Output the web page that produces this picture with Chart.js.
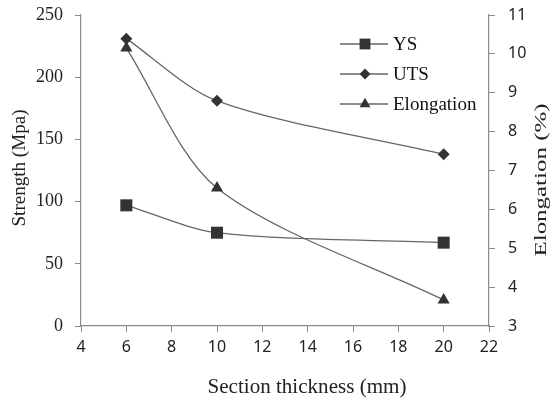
<!DOCTYPE html>
<html>
<head>
<meta charset="utf-8">
<script src="https://cdn.jsdelivr.net/npm/chart.js@4.4.1/dist/chart.umd.min.js"></script>
<style>
  html, body { margin: 0; padding: 0; background: #fff; }
  #wrap { width: 556px; height: 401px; position: relative; }
</style>
</head>
<body>
<div id="wrap"><canvas id="c" width="556" height="401"></canvas></div>
<script>
// ---- data ----
const thickness = [6, 10, 20];
const ysValues = [97, 75, 67];
const utsValues = [231, 181, 138];
const elongationValues = [10.15, 6.55, 3.67];
const xTicks = [4, 6, 8, 10, 12, 14, 16, 18, 20, 22];
const strengthTicks = [0, 50, 100, 150, 200, 250];
const elongationTicks = [3, 4, 5, 6, 7, 8, 9, 10, 11];
const seriesNames = ['YS', 'UTS', 'Elongation'];
const xTitle = 'Section thickness (mm)';
const leftTitle = 'Strength (Mpa)';
const rightTitle = 'Elongation (%)';

const toPts = (vals) => thickness.map((x, i) => ({ x: x, y: vals[i] }));

const serif = '"Liberation Serif", "DejaVu Serif", serif';
const sans = '"Noto Sans", "Liberation Sans", sans-serif';
const lineColor = '#666';
const markColor = '#333';
const axisColor = '#8a8a8a';

const styles = [
  { pointStyle: 'rect', radius: 8.5 },
  { pointStyle: 'rectRot', radius: 6 },
  { pointStyle: 'triangle', radius: 7 }
];

function mkDataset(i, vals, axis) {
  return {
    label: seriesNames[i],
    data: toPts(vals),
    yAxisID: axis,
    borderColor: lineColor,
    borderWidth: 1.3,
    backgroundColor: markColor,
    pointBackgroundColor: markColor,
    pointBorderColor: markColor,
    pointBorderWidth: 0,
    pointStyle: styles[i].pointStyle,
    pointRadius: styles[i].radius,
    tension: 0.3,
    fill: false
  };
}

function drawMarker(ctx, style, r, x, y) {
  ctx.beginPath();
  if (style === 'rect') {
    const s = Math.SQRT1_2 * r;
    ctx.rect(x - s, y - s, 2 * s, 2 * s);
  } else if (style === 'rectRot') {
    ctx.moveTo(x - r, y); ctx.lineTo(x, y - r); ctx.lineTo(x + r, y); ctx.lineTo(x, y + r); ctx.closePath();
  } else {
    const e = r * Math.sqrt(3);
    ctx.moveTo(x, y - r); ctx.lineTo(x + e / 2, y + r / 2); ctx.lineTo(x - e / 2, y + r / 2); ctx.closePath();
  }
  ctx.fillStyle = markColor;
  ctx.fill();
}

const decor = {
  id: 'decor',
  afterDraw(chart) {
    const ctx = chart.ctx;
    ctx.save();
    // legend
    const rows = [44, 74, 104];
    chart.data.datasets.forEach((ds, i) => {
      const y = rows[i];
      ctx.strokeStyle = lineColor;
      ctx.lineWidth = 1.3;
      ctx.beginPath(); ctx.moveTo(340, y); ctx.lineTo(388, y); ctx.stroke();
      drawMarker(ctx, styles[i].pointStyle, styles[i].radius * 0.9, 365, y);
      ctx.fillStyle = '#111';
      ctx.font = '19px ' + serif;
      ctx.textAlign = 'left';
      ctx.textBaseline = 'middle';
      ctx.fillText(ds.label, 393, y + 1);
    });
    // axis titles
    ctx.fillStyle = '#222';
    ctx.textAlign = 'center';
    ctx.textBaseline = 'middle';
    ctx.font = '20px ' + serif;
    let w = ctx.measureText(xTitle).width;
    ctx.save(); ctx.translate(307, 388); ctx.scale(199 / w, 1); ctx.fillText(xTitle, 0, 0); ctx.restore();

    ctx.font = '18px ' + serif;
    w = ctx.measureText(leftTitle).width;
    ctx.save(); ctx.translate(20, 168); ctx.rotate(-Math.PI / 2); ctx.scale(117 / w, 1); ctx.fillText(leftTitle, 0, 0); ctx.restore();

    ctx.font = '17px ' + serif;
    w = ctx.measureText(rightTitle).width;
    ctx.save(); ctx.translate(542, 180); ctx.rotate(-Math.PI / 2); ctx.scale(153 / w, 1); ctx.fillText(rightTitle, 0, 0); ctx.restore();
    ctx.restore();
  }
};

function zeroPad(s) { s.paddingTop = 0; s.paddingBottom = 0; }

new Chart(document.getElementById('c'), {
  type: 'line',
  data: {
    datasets: [
      mkDataset(0, ysValues, 'y'),
      mkDataset(1, utsValues, 'y'),
      mkDataset(2, elongationValues, 'y1')
    ]
  },
  options: {
    responsive: false,
    animation: false,
    events: [],
    layout: { padding: { top: 15, left: 0, right: 0, bottom: 0 } },
    plugins: { legend: { display: false }, tooltip: { enabled: false } },
    scales: {
      x: {
        type: 'linear',
        min: xTicks[0], max: xTicks[xTicks.length - 1],
        afterBuildTicks: (s) => { s.ticks = xTicks.map(v => ({ value: v })); },
        afterFit: (s) => { s.height = 75; s.paddingLeft = 0; s.paddingRight = 0; },
        grid: { drawOnChartArea: false, drawTicks: true, tickLength: 6, color: axisColor },
        border: { color: axisColor, width: 1.2 },
        ticks: { color: '#222', font: { family: sans, size: 16 }, padding: 6, maxRotation: 0 }
      },
      y: {
        position: 'left',
        min: 0, max: 250,
        afterBuildTicks: (s) => { s.ticks = strengthTicks.map(v => ({ value: v })); },
        afterFit: (s) => { s.width = 81; zeroPad(s); },
        grid: { drawOnChartArea: false, drawTicks: true, tickLength: 6, color: axisColor },
        border: { color: axisColor, width: 1.2 },
        ticks: { color: '#222', font: { family: serif, size: 18 }, padding: 12 }
      },
      y1: {
        position: 'right',
        min: 3, max: 11,
        afterBuildTicks: (s) => { s.ticks = elongationTicks.map(v => ({ value: v })); },
        afterFit: (s) => { s.width = 67; zeroPad(s); },
        grid: { drawOnChartArea: false, drawTicks: true, tickLength: 6, color: axisColor },
        border: { color: axisColor, width: 1.2 },
        ticks: { color: '#222', font: { family: sans, size: 16 }, padding: 13 }
      }
    }
  },
  plugins: [decor]
});
</script>
</body>
</html>
